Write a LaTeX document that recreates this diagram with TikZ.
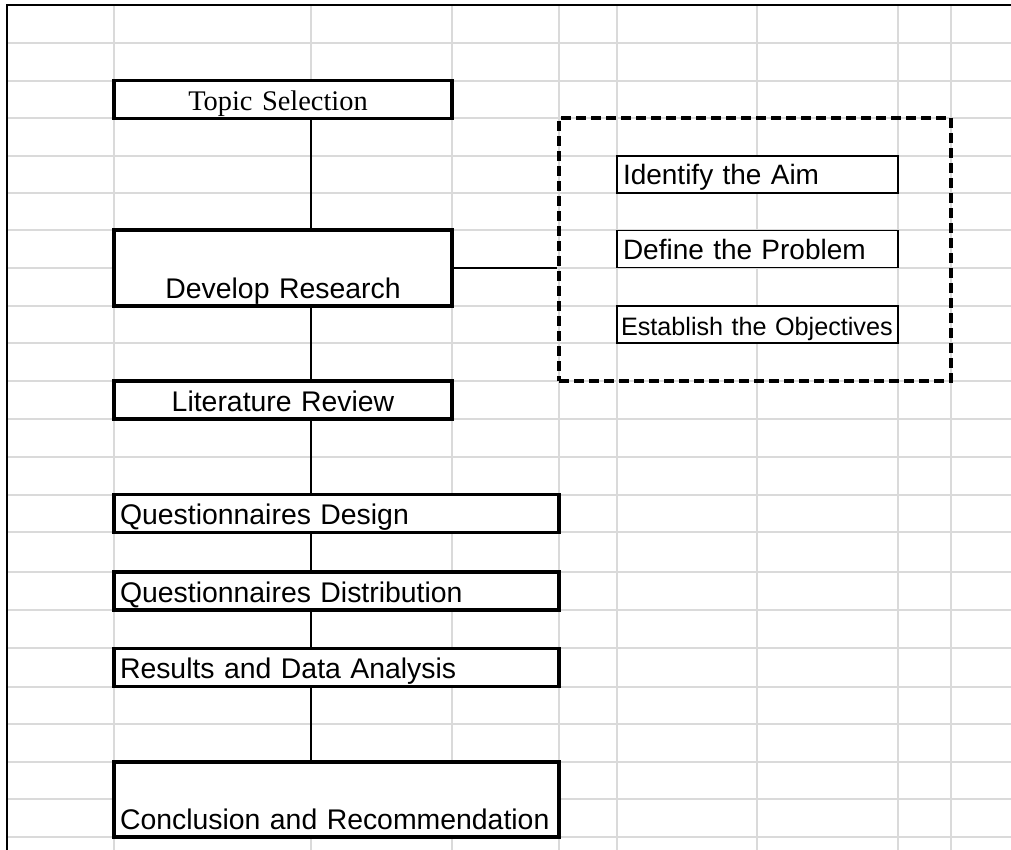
\documentclass[tikz,border=0pt]{standalone}
\usepackage{fontspec}
\setmainfont{Liberation Sans}
\newfontfamily\timesfont{Liberation Serif}
\usetikzlibrary{positioning,calc}
\definecolor{cellgrid}{RGB}{218,218,218}
\definecolor{ink}{RGB}{0,0,0}
\tikzset{
  stage/.style={draw=ink,fill=white,line width=1.6pt,inner xsep=3pt,inner ysep=0pt,
    text width=#1,text depth=4pt,text height=15pt,font=\fontsize{14.2}{16}\selectfont},
  stage/.default=163pt,
  tall/.style={text height=34pt},
  task/.style={draw=ink,fill=white,line width=0.8pt,inner xsep=3pt,inner ysep=0pt,
    text width=134.5pt,align=left,text depth=4pt,text height=14.5pt,
    font=\fontsize{14}{16}\selectfont},
  group/.style={draw=ink,line width=1.6pt,dash pattern=on 5pt off 2.5pt,
    minimum width=196pt,minimum height=131.5pt},
  link/.style={draw=ink,line width=0.75pt},
  cell/.style={draw=cellgrid,line width=0.6pt},
}
\begin{document}
\begin{tikzpicture}[x=0.5pt,y=-0.5pt]
  \useasboundingbox (0,0) rectangle (1011,850);
  % sheet grid
  \foreach \y in {43,81,118,156,193,230,268,306,343,381,419,457,495,532,572,610,648,687,724,762,799,837}
    \draw[cell] (7,\y) -- (1011,\y);
  \foreach \x in {114,311,452,559,617,757,898,951}
    \draw[cell] (\x,5) -- (\x,850);
  \draw[ink,line width=1pt] (7,850) -- (7,5) -- (1011,5);
  \coordinate (spine) at (311,0);
  % main steps
  \node[stage,align=center] (topic) at (283,99.5) {\timesfont\hspace*{-5pt}Topic Selection};
  \node[stage,tall,align=center] (develop) at (283,268) {Develop Research};
  \node[stage,align=center] (review) at (283,400) {Literature Review};
  \node[stage=216.5pt,align=left] (design) at (336.5,513.5) {Questionnaires Design};
  \node[stage=216.5pt,align=left] (distrib) at (336.5,591) {Questionnaires Distribution};
  \node[stage=216.5pt,align=left] (results) at (336.5,667.5) {Results and Data Analysis};
  \node[stage=216.5pt,tall,align=left,text height=33.5pt] (concl) at (336.5,799.5) {Conclusion and Recommendation};
  % research parts
  \node[group] (parts) at (755,249.5) {};
  \node[task] (aim) at (757.5,174.5) {Identify the Aim};
  \node[task] (problem) at (757.5,249) {Define the Problem};
  \node[task,inner xsep=2pt,text width=136.5pt,font=\fontsize{12.6}{15}\selectfont] (objectives) at (757.5,324.5) {\mbox{Establish the Objectives}};
  % links
  \draw[link] (topic.south -| spine) -- (develop.north -| spine);
  \draw[link] (develop.south -| spine) -- (review.north -| spine);
  \draw[link] (review.south -| spine) -- (design.north -| spine);
  \draw[link] (design.south -| spine) -- (distrib.north -| spine);
  \draw[link] (distrib.south -| spine) -- (results.north -| spine);
  \draw[link] (results.south -| spine) -- (concl.north -| spine);
  \draw[link] (develop.east) -- (develop.east -| parts.west);
\end{tikzpicture}
\end{document}
